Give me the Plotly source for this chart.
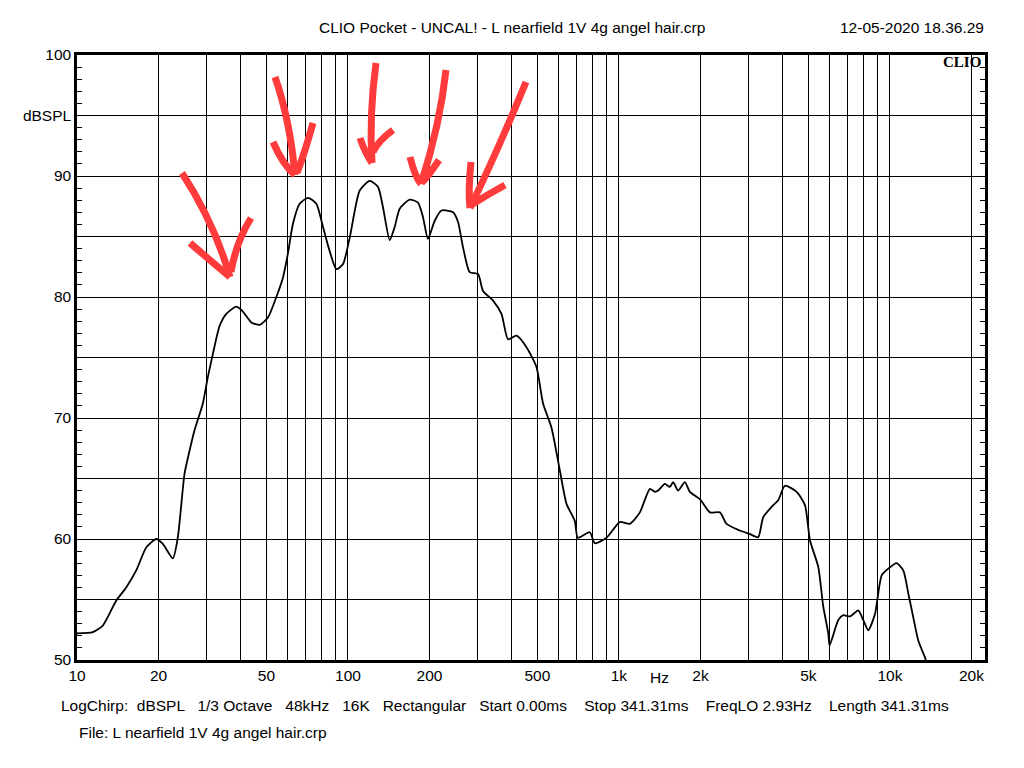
import plotly.graph_objects as go

# ---------------- data ----------------
freq_hz = [10, 11.44, 12.45, 13.95, 15.19, 16.54, 18.01, 19.61, 20.74, 22.58, 23.56,
           24.94, 26.03, 27.16, 29.14, 30.41, 31.73, 33.59, 35.56, 38.72, 40.95,
           44.0, 47.2, 50.66, 54.4, 57.54, 60.04, 62.65, 66.32, 71.18, 76.43,
           80.86, 85.57, 90.6, 95.8, 101.5, 110.5, 120.3, 129.1, 134.7, 142.6,
           148.8, 155.2, 169, 181.3, 189.2, 197.4, 209, 221.3, 244.2, 254.8,
           265.9, 281.4, 302, 315.1, 343.1, 368.6, 389.8, 418.8, 455.9, 496.4,
           524.8, 563.8, 604.9, 640.6, 687.3, 705, 780.8, 814.7, 900, 1008,
           1097, 1195, 1301, 1357, 1396, 1477, 1540, 1586, 1654, 1752, 1827,
           1990, 2167, 2359, 2497, 2796, 3044, 3266, 3408, 3711, 3871, 4099,
           4527, 4860, 5070, 5440, 5678, 5925, 5990, 6450, 6730, 7125, 7643,
           7976, 8325, 8810, 9327, 9863, 10595, 11206, 11694, 12203, 12734,
           13479, 13750]
spl_db = [52.2, 52.3, 52.85, 54.9, 56.0, 57.4, 59.3, 60.0, 59.6, 58.4, 60.15,
          65.4, 67.3, 69.0, 71.2, 73.4, 75.3, 77.6, 78.6, 79.2, 78.8,
          77.9, 77.7, 78.3, 80.0, 81.6, 83.6, 86.05, 87.7, 88.2, 87.7,
          85.8, 83.8, 82.3, 82.7, 84.9, 88.8, 89.6, 89.1, 87.4, 84.7,
          85.8, 87.3, 88.05, 87.8, 86.6, 84.8, 86.3, 87.15, 87.0, 86.2,
          84.1, 82.05, 81.9, 80.5, 79.7, 78.6, 76.5, 76.8, 75.85, 74.2,
          71.2, 69.2, 65.7, 62.9, 61.5, 60.1, 60.56, 59.65, 60.1, 61.4,
          61.25, 62.2, 64.15, 63.9, 64.0, 64.55, 64.3, 64.7, 64.0, 64.7, 63.9,
          63.3, 62.2, 62.2, 61.25, 60.7, 60.4, 60.15, 61.8, 62.8, 63.2, 64.4,
          63.9, 62.8, 59.9, 57.7, 54.4, 52.2, 51.2, 53.3, 53.7, 53.6, 54.1,
          53.3, 52.45, 53.8, 57.0, 57.55, 58.0, 57.4, 55.5, 53.5, 51.6,
          50.2, 49.6]

x_tickvals = [10, 20, 30, 40, 50, 60, 70, 80, 90,
              100, 200, 300, 400, 500, 600, 700, 800, 900,
              1000, 2000, 3000, 4000, 5000, 6000, 7000, 8000, 9000,
              10000, 20000]
x_ticktext = ["10", "20", "", "", "50", "", "", "", "",
              "100", "200", "", "", "500", "", "", "", "",
              "1k", "2k", "", "", "5k", "", "", "", "",
              "10k", "20k"]
y_tickvals = [50, 55, 60, 65, 70, 75, 80, 85, 90, 95, 100]
y_ticktext = ["50", "", "60", "", "70", "", "80", "", "90", "dBSPL", "100"]

title_text = "CLIO Pocket - UNCAL! - L nearfield 1V 4g angel hair.crp"
date_text = "12-05-2020 18.36.29"
info_text = ("LogChirp:  dBSPL   1/3 Octave   48kHz   16K   Rectangular   Start 0.00ms    "
             "Stop 341.31ms    FreqLO 2.93Hz    Length 341.31ms")
file_text = "File: L nearfield 1V 4g angel hair.crp"

# hand-drawn red arrows (pixel strokes of the annotation overlay)
arrow_strokes = [
    # arrow 1
    [(182, 173), (214, 222), (230, 277)], [(190, 243), (212, 262), (230, 277)],
    [(251, 218), (236, 242), (231, 272)],
    # arrow 2
    [(275, 77), (290, 120), (295, 175)], [(273, 142), (283, 165), (295, 175)],
    [(313, 123), (305, 152), (297, 173)],
    # arrow 3
    [(376, 63), (369, 115), (372, 163)], [(360, 138), (365, 153), (372, 163)],
    [(393, 130), (378, 141), (373, 152)],
    # arrow 4
    [(446, 70), (440, 125), (421, 184)], [(410, 157), (415, 177), (421, 184)],
    [(439, 160), (427, 178), (422, 182)],
    # arrow 5
    [(526, 82), (498, 150), (470, 208)], [(471, 162), (468, 190), (470, 208)],
    [(505, 185), (487, 195), (471, 205)],
]

# ---------------- layout geometry ----------------
W, H = 1024, 768
ML, MR, MT, MB = 77, 39, 55, 108
PW, PH = W - ML - MR, H - MT - MB


def px(x, y):
    return (x - ML) / PW, (H - MB - y) / PH


fig = go.Figure()
fig.add_trace(go.Scatter(
    x=freq_hz, y=spl_db, mode="lines",
    line=dict(color="black", width=1.8, shape="spline", smoothing=0.6),
    hoverinfo="skip", showlegend=False,
))

font_main = "Liberation Sans, Arial, sans-serif"
FS = 15.5

fig.update_layout(
    width=W, height=H,
    margin=dict(l=ML, r=MR, t=MT, b=MB, pad=0),
    paper_bgcolor="white", plot_bgcolor="white",
    font=dict(family=font_main, size=FS, color="black"),
    showlegend=False,
    xaxis=dict(
        type="log", range=[1.0, 4.351],
        tickmode="array", tickvals=x_tickvals, ticktext=x_ticktext,
        showgrid=True, gridcolor="black", gridwidth=1,
        showline=True, linecolor="black", linewidth=2.5, mirror=True,
        ticks="", zeroline=False, tickfont=dict(size=FS, family=font_main),
    ),
    yaxis=dict(
        range=[50, 100],
        tickmode="array", tickvals=y_tickvals, ticktext=y_ticktext,
        showgrid=True, gridcolor="black", gridwidth=1,
        showline=True, linecolor="black", linewidth=2.5, mirror="ticks",
        ticks="inside", ticklen=5, tickcolor="black", tickwidth=1,
        minor=dict(dtick=1, ticks="inside", ticklen=5, tickcolor="black",
                   tickwidth=1, showgrid=False),
        zeroline=False, tickfont=dict(size=FS, family=font_main),
    ),
)

annotations = []
x0, y0 = px(512, 27)
annotations.append(dict(text=title_text, x=x0, y=y0, xref="paper", yref="paper",
                        xanchor="center", yanchor="middle", showarrow=False,
                        font=dict(size=FS, family=font_main)))
x0, y0 = px(986, 27)
annotations.append(dict(text=date_text, x=x0, y=y0, xref="paper", yref="paper",
                        xanchor="right", yanchor="middle", showarrow=False,
                        font=dict(size=FS, family=font_main)))
x0, y0 = px(659, 677)
annotations.append(dict(text="Hz", x=x0, y=y0, xref="paper", yref="paper",
                        xanchor="center", yanchor="middle", showarrow=False,
                        font=dict(size=FS, family=font_main)))
x0, y0 = px(59, 705)
annotations.append(dict(text=info_text, x=x0, y=y0, xref="paper", yref="paper",
                        xanchor="left", yanchor="middle", showarrow=False,
                        font=dict(size=FS, family=font_main)))
x0, y0 = px(77, 732)
annotations.append(dict(text=file_text, x=x0, y=y0, xref="paper", yref="paper",
                        xanchor="left", yanchor="middle", showarrow=False,
                        font=dict(size=FS, family=font_main)))
x0, y0 = px(983, 62)
annotations.append(dict(text="<b>CLIO</b>", x=x0, y=y0, xref="paper", yref="paper",
                        xanchor="right", yanchor="middle", showarrow=False,
                        font=dict(size=15, family="Liberation Serif, serif")))
fig.update_layout(annotations=annotations)

shapes = []
for stroke in arrow_strokes:
    (ax, ay), (bx, by), (cx, cy) = [px(*p) for p in stroke]
    path = f"M {ax},{ay} Q {bx},{by} {cx},{cy}"
    shapes.append(dict(type="path", path=path, xref="paper", yref="paper",
                       line=dict(color="#FF3B3B", width=7), layer="above"))
fig.update_layout(shapes=shapes)

fig.write_html("out.html")
